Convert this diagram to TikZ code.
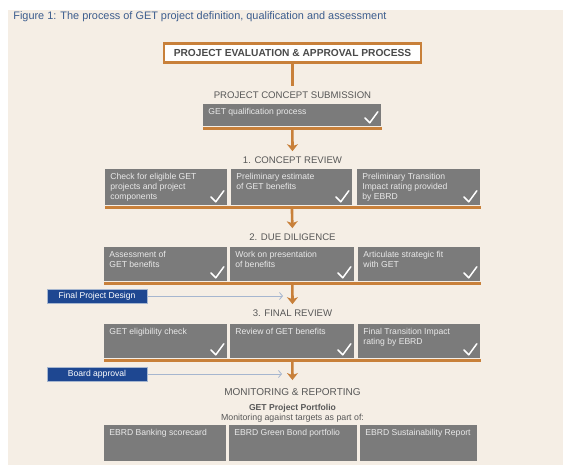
\documentclass[tikz,border=0pt]{standalone}
\usepackage{fontspec}
\setmainfont{Liberation Sans}
\usetikzlibrary{arrows.meta}

\definecolor{paper}{HTML}{F5EEE5}
\definecolor{stepgray}{HTML}{7B7B7B}
\definecolor{steptext}{HTML}{E9E9E9}
\definecolor{ebrdorange}{HTML}{C8803A}
\definecolor{ebrdblue}{HTML}{1E4791}
\definecolor{titleblue}{HTML}{3C5D8E}
\definecolor{labelgray}{HTML}{575757}
\definecolor{pointer}{HTML}{A6B6CF}

% grey step box with its text in the upper left corner
\newcommand\gbox[6]{%
  \node[stepbox, minimum width=#4pt, minimum height=#5pt] (#1) at (#2,#3) {};
  \node[boxtext] at (#1.north west) {#6};}
% white tick in the lower right corner
\newcommand\tick[1]{%
  \draw[tickline] ([shift={(-17,-9)}]#1.south east) -- ++(5,5) -- ++(8,-11);}

\begin{document}
\begin{tikzpicture}[x=1pt,y=-1pt,thick]
  \tikzstyle{stepbox}=[fill=stepgray, draw=none, inner sep=0pt, anchor=north west]
  \tikzstyle{boxtext}=[anchor=north west, text=steptext, align=left, inner xsep=5pt, inner ysep=3.5pt,
                       font=\fontsize{8.6}{10}\selectfont]
  \tikzstyle{tickline}=[draw=white, line width=1.5pt, line cap=round, line join=round]
  \tikzstyle{stage}=[text=labelgray, inner sep=0pt, font=\fontsize{9.6}{11}\selectfont]
  \tikzstyle{rowbar}=[draw=ebrdorange, line width=3pt]
  \tikzstyle{flowline}=[draw=ebrdorange, line width=2.6pt]
  \tikzstyle{flowarrow}=[flowline, -{Stealth[length=7pt,width=11pt,inset=2pt]}, shorten >=5pt]
  \tikzstyle{sidebox}=[fill=ebrdblue, draw=pointer, line width=0.6pt, text=white, inner sep=0pt,
                       minimum width=100pt, minimum height=14pt, font=\fontsize{8.6}{9}\selectfont]
  \tikzstyle{pointarrow}=[draw=pointer, line width=0.8pt, -{Straight Barb[length=3pt,width=7pt]}]

  \useasboundingbox (0,0) rectangle (563,465);
  \fill[white] (0,0) rectangle (563,465);
  \fill[paper] (8,10) rectangle (563,465);

  \node[anchor=west, inner sep=0pt, text=titleblue, font=\fontsize{10.9}{12}\selectfont] (title) at (13,17)
    {Figure 1: The process of GET project definition, qualification and assessment};

  \node[draw=ebrdorange, line width=2.8pt, fill=white, minimum width=257pt, minimum height=19.5pt,
        inner sep=0pt, text=labelgray!85!black, font=\bfseries\fontsize{10.2}{11}\selectfont]
    (evalproc) at (292.5,53) {PROJECT EVALUATION \& APPROVAL PROCESS};

  % submission
  \node[stage] (submission) at (292.5,95) {PROJECT CONCEPT SUBMISSION};
  \draw[flowline, shorten >=5pt] (evalproc.south) -- (submission.north);
  \gbox{q1}{203}{104}{178}{22}{GET qualification process}
  \tick{q1}
  \draw[rowbar] ([yshift=-1.5pt]q1.south west) -- ([yshift=-1.5pt]q1.south east);

  % 1. concept review
  \node[stage] (concept) at (292.5,160) {1. CONCEPT REVIEW};
  \draw[flowarrow] ([yshift=-1.5pt]q1.south) -- (concept.north);
  \gbox{cr1}{105}{169}{122}{36}{Check for eligible GET\\projects and project\\components}
  \gbox{cr2}{231}{169}{121}{36}{Preliminary estimate\\of GET benefits}
  \gbox{cr3}{357}{169}{123}{36}{Preliminary Transition\\Impact rating provided\\by EBRD}
  \foreach \b in {cr1,cr2,cr3} {\tick{\b}}
  \draw[rowbar] ([yshift=-1.5pt]cr1.south west) -- ([yshift=-1.5pt]cr3.south east);

  % 2. due diligence
  \node[stage] (diligence) at (292.5,237) {2. DUE DILIGENCE};
  \draw[flowarrow] ([yshift=-1.5pt]cr2.south) -- (diligence.north);
  \gbox{dd1}{104}{247}{123}{34}{Assessment of\\GET benefits}
  \gbox{dd2}{230}{247}{124}{34}{Work on presentation\\of benefits}
  \gbox{dd3}{358}{247}{122}{34}{Articulate strategic fit\\with GET}
  \foreach \b in {dd1,dd2,dd3} {\tick{\b}}
  \draw[rowbar] ([yshift=-1.5pt]dd1.south west) -- ([yshift=-1.5pt]dd3.south east);

  % 3. final review
  \node[stage] (final) at (292.5,313) {3. FINAL REVIEW};
  \draw[flowarrow] ([yshift=-1.5pt]dd2.south) -- (final.north);
  \node[sidebox] (design) at (97,296) {Final Project Design};
  \coordinate (designend) at (283,296);
  \draw[pointarrow] (design.east) -- (designend);
  \gbox{fr1}{104}{324}{123}{34}{GET eligibility check}
  \gbox{fr2}{230}{324}{124}{34}{Review of GET benefits}
  \gbox{fr3}{358}{324}{122}{34}{Final Transition Impact\\rating by EBRD}
  \foreach \b in {fr1,fr2,fr3} {\tick{\b}}
  \draw[rowbar] ([yshift=-1.5pt]fr1.south west) -- ([yshift=-1.5pt]fr3.south east);

  % monitoring
  \node[stage, font=\fontsize{10}{11}\selectfont] (monitor) at (292.5,392) {MONITORING \& REPORTING};
  \draw[flowarrow, shorten >=8pt] ([yshift=-1.5pt]fr2.south) -- (monitor.north);
  \node[sidebox] (board) at (97,374) {Board approval};
  \coordinate (boardend) at (282,374);
  \draw[pointarrow] (board.east) -- (boardend);
  \node[text=labelgray, inner sep=0pt, font=\bfseries\fontsize{8.6}{9}\selectfont] (portfolio) at (292.5,408) {GET Project Portfolio};
  \node[text=labelgray, inner sep=0pt, font=\fontsize{8.8}{9}\selectfont] (targets) at (292.5,418) {Monitoring against targets as part of:};
  \gbox{mr1}{104}{425}{122}{36}{EBRD Banking scorecard}
  \gbox{mr2}{229}{425}{128}{36}{EBRD Green Bond portfolio}
  \gbox{mr3}{360}{425}{117}{36}{EBRD Sustainability Report}
\end{tikzpicture}
\end{document}
